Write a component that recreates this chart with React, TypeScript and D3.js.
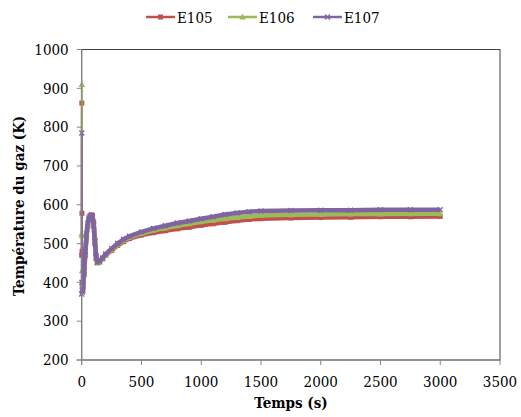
import React from "react";
import * as d3 from "d3";

const times = [0, 1, 2, 3, 5, 10, 20, 30, 40, 50, 60, 70, 80, 90, 100, 110, 120, 130, 150, 175, 200, 250, 300, 350, 400, 500, 600, 700, 800, 900, 1000, 1100, 1200, 1300, 1400, 1500, 1750, 2000, 2250, 2500, 2750, 3000];
const e105 = [470, 862, 578, 480, 400, 385, 420, 470, 515, 545, 562, 570, 574, 572, 555, 510, 470, 455, 455, 462, 470, 482, 495, 505, 513, 522, 528, 533, 538, 542, 547, 551, 555, 559, 562, 564, 566, 567, 568, 569, 569, 570];
const e106 = [525, 910, 520, 430, 395, 380, 425, 475, 520, 548, 563, 568, 570, 566, 545, 500, 462, 450, 452, 460, 470, 484, 497, 508, 516, 526, 534, 540, 546, 551, 556, 560, 564, 567, 570, 572, 574, 575, 576, 576, 577, 577];
const e107 = [370, 785, 400, 380, 375, 380, 430, 480, 525, 552, 566, 571, 573, 568, 548, 505, 465, 452, 455, 463, 473, 487, 500, 511, 519, 530, 539, 546, 553, 558, 564, 569, 575, 579, 582, 584, 585, 586, 586, 587, 587, 587];
const seriesNames = ["E105", "E106", "E107"];
const xTicks = [0, 500, 1000, 1500, 2000, 2500, 3000, 3500];
const yTicks = [200, 300, 400, 500, 600, 700, 800, 900, 1000];

const colors = ["#C0504D", "#9BBB59", "#8064A2"];
const FONT = '"DejaVu Serif Condensed", "DejaVu Serif", serif';

function Marker({ kind, x, y, color }: { kind: number; x: number; y: number; color: string }) {
  if (kind === 0) return <rect x={x - 2.5} y={y - 2.5} width={5} height={5} fill={color} />;
  if (kind === 1) return <path d={`M${x},${y - 3.5}L${x + 3.2},${y + 2.5}L${x - 3.2},${y + 2.5}Z`} fill={color} />;
  return (
    <path d={`M${x - 2.5},${y - 2.5}L${x + 2.5},${y + 2.5}M${x + 2.5},${y - 2.5}L${x - 2.5},${y + 2.5}`} stroke={color} strokeWidth={1.3} />
  );
}

export default function App() {
  const W = 521, H = 417;
  const left = 81.7, right = 500, top = 49.5, bottom = 360;
  const x = d3.scaleLinear().domain([0, 3500]).range([left, right]);
  const y = d3.scaleLinear().domain([200, 1000]).range([bottom, top]);
  const data = [e105, e106, e107];
  const idx = times.map((_, i) => i);
  const line = (vals: number[], ids: number[]) =>
    d3.line<number>().x((i) => x(times[i])).y((i) => y(vals[i]))(ids) || "";
  const spikeIds = idx.filter((i) => times[i] <= 5);
  const mainIds = idx.filter((i) => times[i] >= 5);
  const legendX = [146, 228, 313];
  const ts: React.CSSProperties = { fontFamily: FONT };

  return (
    <svg width={W} height={H} style={{ position: "absolute", left: 0, top: 0 }}>
      <rect width={W} height={H} fill="#fff" />
      <rect x={left} y={top} width={right - left} height={bottom - top} fill="none" stroke="#404040" strokeWidth={1} />
      {data.map((vals, si) => (
        <g key={si}>
          <path d={line(vals, spikeIds)} fill="none" stroke={colors[si]} strokeWidth={2} />
          <path d={line(vals, mainIds)} fill="none" stroke={colors[si]} strokeWidth={4.5} strokeLinejoin="round" />
          {vals.map((v, i) => (
            <Marker key={i} kind={si} x={x(times[i])} y={y(v)} color={colors[si]} />
          ))}
        </g>
      ))}
      <line x1={left} x2={left} y1={top} y2={bottom + 5} stroke="#868686" />
      <line x1={left - 5} x2={right} y1={bottom} y2={bottom} stroke="#868686" />
      {yTicks.map((t) => (
        <g key={t}>
          <line x1={left - 5} x2={left} y1={y(t)} y2={y(t)} stroke="#868686" />
          <text x={left - 13} y={y(t)} dy="0.35em" textAnchor="end" fontSize={15} style={ts}>{t}</text>
        </g>
      ))}
      {xTicks.map((t) => (
        <g key={t}>
          <line x1={x(t)} x2={x(t)} y1={bottom} y2={bottom + 5} stroke="#868686" />
          <text x={x(t)} y={387} textAnchor="middle" fontSize={15} style={ts}>{t}</text>
        </g>
      ))}
      <text x={291} y={408} textAnchor="middle" fontSize={15} fontWeight="bold" style={ts}>Temps (s)</text>
      <text transform="translate(24,206) rotate(-90)" textAnchor="middle" fontSize={15} fontWeight="bold" style={ts}>Température du gaz (K)</text>
      {seriesNames.map((n, i) => (
        <g key={n}>
          <line x1={legendX[i]} x2={legendX[i] + 29} y1={17} y2={17} stroke={colors[i]} strokeWidth={2.5} />
          <Marker kind={i} x={legendX[i] + 14.5} y={17} color={colors[i]} />
          <text x={legendX[i] + 31} y={23} fontSize={15} style={ts}>{n}</text>
        </g>
      ))}
    </svg>
  );
}
